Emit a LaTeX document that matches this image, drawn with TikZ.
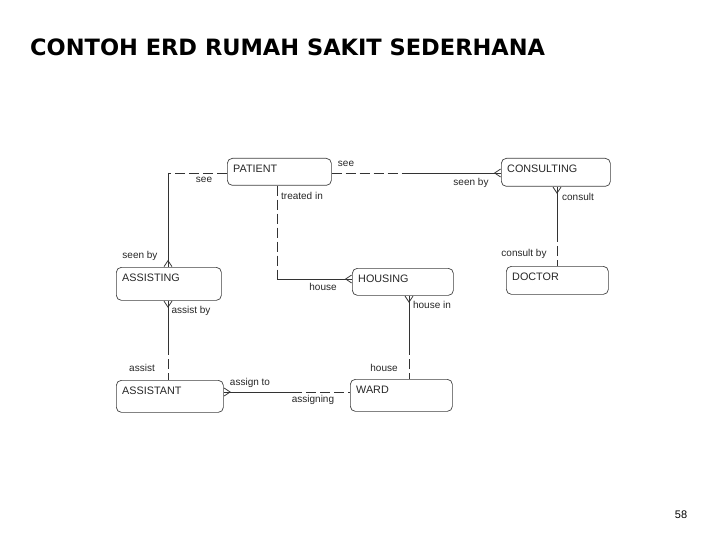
\documentclass[tikz,border=0pt]{standalone}
\usepackage{fontspec}
\setmainfont{Liberation Sans}
\newfontfamily\titlefont{DejaVu Sans}
\usetikzlibrary{arrows.meta}
\begin{document}
\begin{tikzpicture}[x=1pt, y=-1pt]
	\tikzstyle{entity} = [draw=black!75, line width=0.7pt, rounded corners=5pt, anchor=north west, inner sep=0pt]
	\tikzstyle{ename} = [anchor=base west, inner sep=0pt, xshift=6pt, yshift=-14.5pt, font=\fontsize{10.8}{12}\selectfont, text=black!85]
	\tikzstyle{rel} = [inner sep=0pt, font=\fontsize{10}{12}\selectfont, text=black!85]
	\tikzstyle{must} = [draw=black!80, line width=0.8pt]
	\tikzstyle{may} = [must, dash pattern=on 10pt off 4pt]
	\tikzstyle{crow} = [-{Straight Barb[reversed, length=6pt, width=8pt]}, postaction={draw, arrows=-}]
	\useasboundingbox (0,0) rectangle (720,540);
	\node (title) [anchor=west, inner sep=0pt, font=\titlefont\bfseries\fontsize{22.5}{27}\selectfont] at (30,47) {CONTOH ERD RUMAH SAKIT SEDERHANA};
	\node (PAT) [entity, minimum width=104pt, minimum height=27pt, label={[ename, name=PATn]north west:PATIENT}] at (227,158) {};
	\node (CON) [entity, minimum width=109pt, minimum height=28pt, label={[ename, name=CONn]north west:CONSULTING}] at (501,158) {};
	\node (ASG) [entity, minimum width=105pt, minimum height=33pt, label={[ename, name=ASGn]north west:ASSISTING}] at (116,267) {};
	\node (HOU) [entity, minimum width=101pt, minimum height=27pt, label={[ename, name=HOUn]north west:HOUSING}] at (352,268) {};
	\node (DOC) [entity, minimum width=102pt, minimum height=28pt, label={[ename, name=DOCn]north west:DOCTOR}] at (506,266) {};
	\node (AST) [entity, minimum width=107pt, minimum height=32pt, label={[ename, name=ASTn]north west:ASSISTANT}] at (116,380) {};
	\node (WAR) [entity, minimum width=102pt, minimum height=32pt, label={[ename, name=WARn]north west:WARD}] at (350,379) {};
	\coordinate (k1) at (168,173);
	\coordinate (k2) at (412,173);
	\coordinate (k3) at (277,279);
	\coordinate (k4) at (557,232);
	\coordinate (k5) at (168,345);
	\coordinate (k6) at (409,345);
	\coordinate (k7) at (292,392);
	\draw [may] (PAT.west |- k1) -- (k1);
	\draw [must, crow] (k1) -- (k1 |- ASG.north);
	\draw [may] (PAT.east |- k2) -- (k2);
	\draw [must, crow] (k2) -- (CON.west |- k2);
	\draw [may] (k3 |- PAT.south) -- (k3);
	\draw [must, crow] (k3) -- (HOU.west |- k3);
	\draw [must, crow] (k4) -- (k4 |- CON.south);
	\draw [may] (k4) -- (k4 |- DOC.north);
	\draw [must, crow] (k5) -- (k5 |- ASG.south);
	\draw [may] (k5) -- (k5 |- AST.north);
	\draw [must, crow] (k6) -- (k6 |- HOU.south);
	\draw [may] (k6) -- (k6 |- WAR.north);
	\draw [must, crow] (k7) -- (AST.east |- k7);
	\draw [may] (k7) -- (WAR.west |- k7);
	\node (r1) [rel] at (204,180) {see};
	\node (r2) [rel] at (140,256) {seen by};
	\node (r3) [rel] at (346,164) {see};
	\node (r4) [rel] at (471,183) {seen by};
	\node (r5) [rel] at (302,196) {treated in};
	\node (r6) [rel] at (323,287) {house};
	\node (r7) [rel] at (578,197) {consult};
	\node (r8) [rel] at (524,254) {consult by};
	\node (r9) [rel] at (191,311) {assist by};
	\node (r10) [rel] at (142,368) {assist};
	\node (r11) [rel] at (432,305) {house in};
	\node (r12) [rel] at (384,368) {house};
	\node (r13) [rel] at (250,383) {assign to};
	\node (r14) [rel] at (313,400) {assigning};
	\node (pg) [rel, text=black, font=\fontsize{11}{13}\selectfont] at (681,515) {58};
\end{tikzpicture}
\end{document}
